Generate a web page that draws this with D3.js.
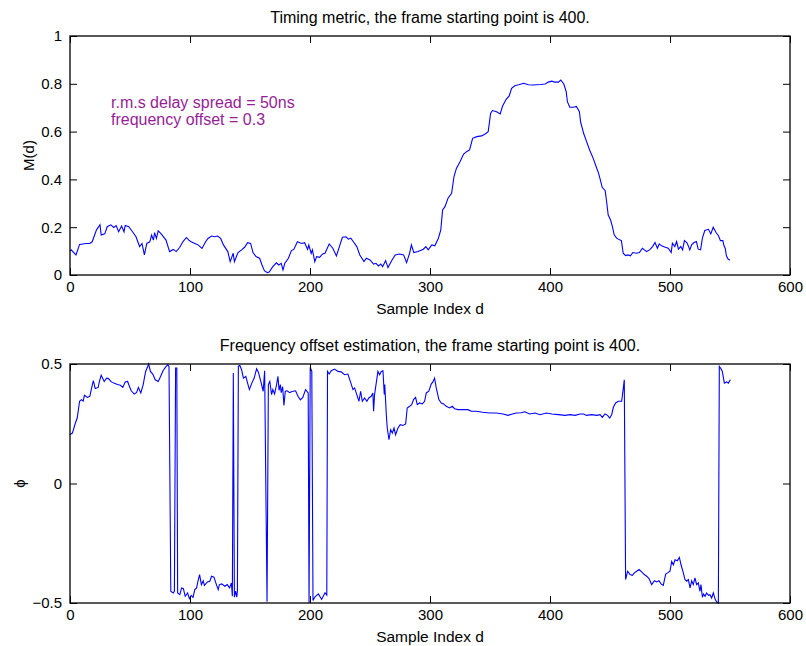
<!DOCTYPE html>
<html>
<head>
<meta charset="utf-8">
<script src="https://cdn.jsdelivr.net/npm/d3@7"></script>
<style>
  body { margin: 0; background: #fff; }
  svg { font-family: "Liberation Sans", Arial, Helvetica, sans-serif; }
</style>
</head>
<body>
<div id="plot"></div>
<script>
// timing metric M(d)
let timingX = [0,1,5,8,13.5,16.5,18.5,22,25,26,29,31,34,36.5,38.5,40.5,43,45,46,49,51.5,55,58,60,62,64,66.5,68,69.5,70.5,72,73.5,76,80,83,86,88.5,91.5,94,97,99,101,104,107,110,113,115,118,120.5,123,125.5,128,131.5,133.5,136,137,140,143,145.5,148,150.5,152.5,155,158,160,162,164.5,166,169,172,174,176,177.5,179,182,184.5,186.5,189.5,193,195.5,198,199,201,202,204,205.5,208,210.5,212.5,216,219,222,224.5,227,230,232,234,236,239,241.5,245,247,250,253,255,257,259,260.5,263,265,268,271,274.5,278,280.5,283,284.5,286.5,290,294.5,296.5,298.5,301.5,304,307,309,310.5,312.5,315,318,320,322,325,328,330.5,333,335.5,339,343,346,348.5,350.5,352,355.5,358.5,360.5,363.5,366,368,371,374,378,382,386,392,396,398.5,401.5,404,407,409,411.5,413.5,414.5,416.5,419.5,422,424.5,425.5,428,430.5,433,436,438.5,440.5,442,443.5,446,447,448.5,450.5,452,453.5,455.5,458,459.5,461,463,465,467,469,472,474.5,477,480.5,483,485.5,487.5,489.5,491,493,496,498.5,501,502,504,505.5,507,509,510.5,512,514,515.5,516.5,518,520,522,523.5,525.5,527,529,532,534,536,538.5,540.5,542,544,545,546,547,548.5,550];
let timingY = [0.10,0.105,0.084,0.128,0.132,0.132,0.139,0.188,0.21,0.167,0.172,0.202,0.21,0.199,0.207,0.181,0.205,0.181,0.207,0.202,0.185,0.16,0.119,0.132,0.084,0.132,0.139,0.167,0.146,0.177,0.153,0.185,0.172,0.146,0.098,0.107,0.098,0.116,0.139,0.157,0.146,0.139,0.132,0.125,0.111,0.139,0.153,0.163,0.16,0.163,0.153,0.125,0.098,0.056,0.091,0.056,0.094,0.105,0.116,0.135,0.132,0.094,0.077,0.07,0.042,0.018,0.01,0.012,0.035,0.051,0.042,0.049,0.021,0.049,0.07,0.102,0.107,0.139,0.132,0.135,0.107,0.125,0.09,0.105,0.056,0.077,0.074,0.088,0.091,0.13,0.112,0.08,0.119,0.158,0.16,0.15,0.154,0.14,0.119,0.084,0.056,0.07,0.063,0.046,0.049,0.038,0.046,0.035,0.06,0.031,0.06,0.084,0.088,0.084,0.052,0.091,0.126,0.094,0.098,0.108,0.119,0.105,0.126,0.122,0.154,0.189,0.272,0.286,0.321,0.342,0.412,0.446,0.474,0.506,0.516,0.523,0.572,0.579,0.582,0.59,0.6,0.676,0.688,0.683,0.674,0.707,0.735,0.749,0.781,0.793,0.796,0.802,0.796,0.795,0.797,0.799,0.807,0.811,0.807,0.807,0.816,0.799,0.767,0.725,0.702,0.702,0.705,0.683,0.641,0.593,0.558,0.523,0.488,0.453,0.425,0.397,0.367,0.353,0.314,0.251,0.23,0.202,0.168,0.154,0.147,0.144,0.091,0.081,0.084,0.08,0.094,0.091,0.094,0.112,0.098,0.105,0.119,0.136,0.112,0.13,0.122,0.116,0.112,0.094,0.133,0.119,0.14,0.108,0.119,0.105,0.144,0.136,0.119,0.105,0.126,0.136,0.14,0.108,0.105,0.154,0.186,0.191,0.172,0.2,0.177,0.163,0.144,0.144,0.122,0.112,0.08,0.066,0.063];

// frequency offset estimate phi(d)
let freqX = [0,2,4.5,6,8,9.5,11,12,14.5,16.5,18.5,19.5,21,23.5,24.5,26,28.5,30.5,32,34.5,36.5,39.5,42,44,46,48,49.5,51,53.5,55.5,57,59,61,63,64.5,65.5,67,69,71,73.5,75.5,77.5,79.5,81.5,82.5,84,86,87,88,89,89.7,91.5,93,94.5,96,98,99.5,101,102.5,104,105.5,106.5,108,109.5,111,112,114.5,116.5,118,120,122,123.5,124.5,126.5,129,131,133,134.5,135.3,136.1,137,138,139,139.5,140.3,141.5,143,144.5,146.5,148,149.5,151.5,153.5,155.5,157,159,161,162.2,164.2,165.3,166.5,168,169,170.5,172,173.3,174.2,175.3,176,177.2,178.3,179.4,181,183,185,188,190,192,194,196.3,198.5,199.2,200.2,201.5,202.5,204.2,207,209.7,212.5,214,214.6,216,217.7,220.5,223.3,226,228.8,231.6,233.6,235.8,237.2,239,240.8,242.2,243.6,245.5,247.4,249,251,252.4,253,253.8,255.2,256.6,258,259.4,260.8,261.9,262.3,263.6,264.4,265.8,267.2,268.6,270,271.3,273.3,275.2,277.4,279.7,281,283,284.7,286.3,288,289.4,291.3,293.6,295.5,296.9,299,301,302.4,303.8,305.2,307.4,309.4,311.3,313.5,316.3,318.5,320.5,323.3,327.4,331.6,334.4,338.6,344,349.7,355.2,360.8,365,368.6,372,376,379,383,387.5,391.7,397,401.5,407,412.5,416.7,421,425,428,430.5,434.7,439,441.7,443.6,445.8,448,449.7,451.4,452.8,454.7,457,459.7,460.6,461.9,463,464.7,466.7,468.6,470.3,472.2,474.2,476.4,478.6,480.6,482.5,484.7,487,488.9,490.8,492.5,494.4,496.4,498,500,501.4,502.8,504.2,506.1,507.8,509.2,511.1,512.5,513.9,515.3,516.7,518.1,519.4,520.8,522.2,523.6,525,525.8,527,528,529.2,530.5,532,533.3,534.7,536.1,537.5,538.9,540.3,541.1,542.5,543.6,545.3,547.2,548.6,550.3];
let freqY = [0.205,0.211,0.253,0.274,0.344,0.351,0.345,0.369,0.36,0.365,0.411,0.43,0.397,0.402,0.427,0.453,0.427,0.441,0.439,0.425,0.42,0.414,0.411,0.402,0.425,0.427,0.407,0.388,0.374,0.381,0.402,0.379,0.414,0.469,0.486,0.5,0.469,0.458,0.434,0.427,0.448,0.472,0.486,0.497,0.49,-0.451,-0.458,-0.451,0.483,0.483,-0.458,-0.465,-0.437,-0.44,-0.472,-0.458,-0.482,-0.468,-0.476,-0.444,-0.437,-0.412,-0.381,-0.423,-0.407,-0.426,-0.412,-0.409,-0.388,-0.392,-0.423,-0.444,-0.423,-0.42,-0.43,-0.423,-0.437,-0.416,-0.472,0.462,-0.476,-0.45,-0.476,-0.451,0.49,0.494,0.476,0.441,0.448,0.42,0.393,0.42,0.441,0.48,0.466,0.427,0.386,0.472,-0.495,0.414,0.427,0.372,0.393,0.375,0.41,0.448,0.39,0.414,0.38,0.405,0.327,0.386,0.388,0.38,0.385,0.388,0.365,0.35,0.36,0.393,0.379,-0.5,0.486,0.47,-0.49,-0.474,-0.462,-0.485,-0.457,-0.467,0.469,0.458,0.472,0.479,0.469,0.467,0.455,0.458,0.427,0.393,0.4,0.372,0.344,0.386,0.344,0.358,0.344,0.358,0.365,0.379,0.302,0.372,0.42,0.469,0.455,0.469,0.472,0.372,0.414,0.288,0.232,0.183,0.225,0.211,0.232,0.204,0.232,0.246,0.243,0.249,0.316,0.323,0.33,0.351,0.36,0.33,0.337,0.333,0.344,0.379,0.386,0.416,0.425,0.441,0.4,0.351,0.337,0.333,0.323,0.316,0.323,0.313,0.309,0.309,0.309,0.302,0.302,0.298,0.295,0.295,0.291,0.285,0.291,0.295,0.296,0.3,0.291,0.295,0.288,0.295,0.291,0.288,0.285,0.288,0.285,0.291,0.291,0.285,0.288,0.285,0.288,0.277,0.291,0.285,0.274,0.288,0.319,0.337,0.344,0.344,0.379,0.434,-0.402,-0.367,-0.381,-0.384,-0.374,-0.367,-0.36,-0.37,-0.381,-0.388,-0.398,-0.423,-0.407,-0.412,-0.407,-0.42,-0.426,-0.379,-0.374,-0.367,-0.326,-0.34,-0.319,-0.323,-0.309,-0.34,-0.374,-0.402,-0.409,-0.402,-0.437,-0.407,-0.423,-0.395,-0.423,-0.416,-0.451,-0.423,-0.476,-0.462,-0.472,-0.458,-0.468,-0.465,-0.479,-0.458,-0.482,-0.496,-0.5,0.49,0.48,0.469,0.42,0.425,0.42,0.434];

let xTicks = [0, 100, 200, 300, 400, 500, 600];
let timingTicks = [0, 0.2, 0.4, 0.6, 0.8, 1];
let freqTicks = [-0.5, 0, 0.5];
let notes = ["r.m.s delay spread = 50ns", "frequency offset = 0.3"];

let width = 806, height = 646;
let svg = d3.select("#plot").append("svg")
    .attr("width", width)
    .attr("height", height);

function drawPanel(top, xs, ys, yDomain, yTicks, yFmt, title, yLabel, yLabelX) {
    let left = 70, w = 720, h = 239;
    let x = d3.scaleLinear().domain([0, 600]).range([0, w]);
    let y = d3.scaleLinear().domain(yDomain).range([h, 0]);
    let g = svg.append("g").attr("transform", `translate(${left},${top})`);

    // line first, axes on top
    let pts = xs.map((d, i) => [d, ys[i]]);
    g.append("path")
        .datum(pts)
        .attr("fill", "none")
        .attr("stroke", "#0000ff")
        .attr("stroke-width", 1.1)
        .attr("d", d3.line().x(p => x(p[0])).y(p => y(p[1])));

    let bottom = g.append("g").attr("transform", `translate(0,${h})`)
        .call(d3.axisBottom(x).tickValues(xTicks).tickSizeInner(-7).tickSizeOuter(0).tickPadding(6));
    let topAx = g.append("g")
        .call(d3.axisTop(x).tickValues(xTicks).tickSizeInner(-7).tickSizeOuter(0).tickFormat(""));
    let leftAx = g.append("g")
        .call(d3.axisLeft(y).tickValues(yTicks).tickSizeInner(-7).tickSizeOuter(0).tickPadding(8).tickFormat(yFmt));
    let rightAx = g.append("g").attr("transform", `translate(${w},0)`)
        .call(d3.axisRight(y).tickValues(yTicks).tickSizeInner(-7).tickSizeOuter(0).tickFormat(""));

    [bottom, topAx, leftAx, rightAx].forEach(a => {
        a.select(".domain").remove();
        a.selectAll("line").attr("stroke", "#000");
        a.selectAll("text").attr("fill", "#000").style("font-size", "15px")
            .style("font-family", '"Liberation Sans", Arial, sans-serif');
    });

    g.append("rect")
        .attr("width", w).attr("height", h)
        .attr("fill", "none").attr("stroke", "#000").attr("stroke-width", 1.3);

    svg.append("text")
        .attr("x", left + w / 2).attr("y", top - 13)
        .attr("text-anchor", "middle")
        .style("font-size", "16px")
        .text(title);

    svg.append("text")
        .attr("x", left + w / 2).attr("y", top + h + 39)
        .attr("text-anchor", "middle")
        .style("font-size", "15.5px")
        .text("Sample Index d");

    svg.append("text")
        .attr("transform", `translate(${yLabelX},${top + h / 2}) rotate(-90)`)
        .attr("text-anchor", "middle")
        .style("font-size", "15px")
        .text(yLabel);

    return g;
}

let topPanel = drawPanel(36, timingX, timingY, [0, 1], timingTicks,
    d => d3.format("~g")(d),
    "Timing metric, the frame starting point is 400.", "M(d)", 34);

topPanel.selectAll("text.note")
    .data(notes)
    .enter()
    .append("text")
    .attr("class", "note")
    .attr("x", 41)
    .attr("y", (d, i) => 72 + i * 17)
    .attr("fill", "#961e96")
    .style("font-size", "16px")
    .text(d => d);

drawPanel(364, freqX, freqY, [-0.5, 0.5], freqTicks,
    d => d === 0 ? "0" : d3.format("~g")(d).replace("-", "\u2212"),
    "Frequency offset estimation, the frame starting point is 400.", "\u03d5", 25);
</script>
</body>
</html>
